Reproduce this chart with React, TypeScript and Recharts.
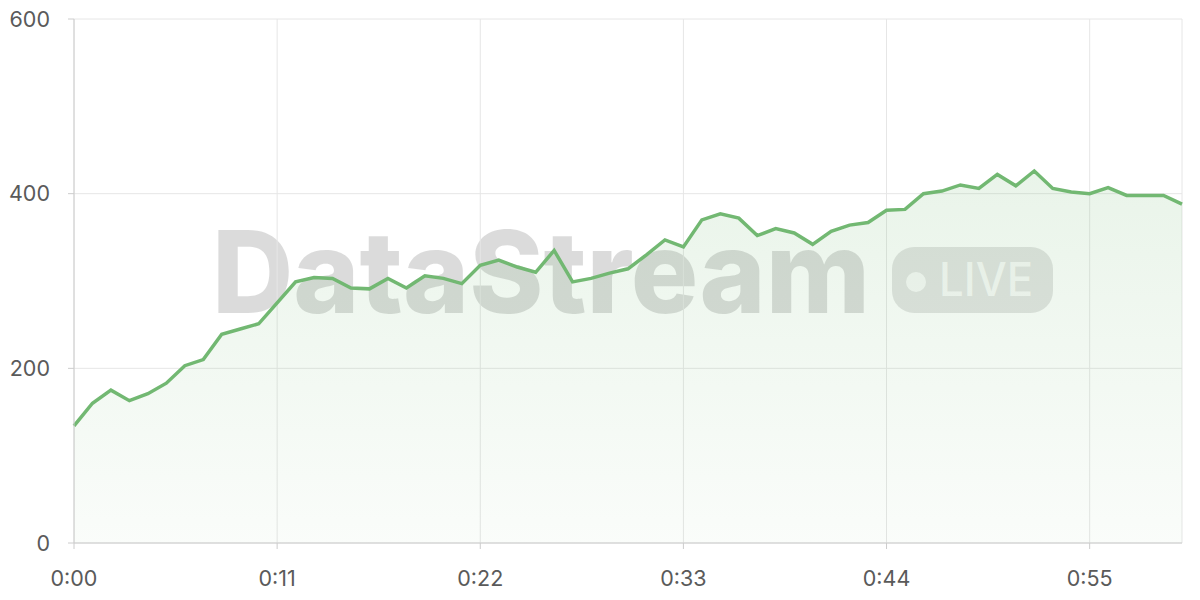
import { AreaChart, Area, XAxis, YAxis, CartesianGrid } from "recharts";

// seconds since start
const seconds = [
  0, 1, 2, 3, 4, 5, 6, 7, 8, 9, 10, 11, 12, 13, 14, 15, 16, 17, 18, 19, 20,
  21, 22, 23, 24, 25, 26, 27, 28, 29, 30, 31, 32, 33, 34, 35, 36, 37, 38, 39,
  40, 41, 42, 43, 44, 45, 46, 47, 48, 49, 50, 51, 52, 53, 54, 55, 56, 57, 58,
  59, 60,
];

const values = [
  134, 160, 175, 163, 171, 183, 203, 210, 239, 245, 251, 275, 299, 304, 303,
  292, 291, 303, 292, 306, 303, 297, 318, 324, 316, 310, 335, 299, 303, 309,
  314, 330, 347, 339, 370, 377, 372, 352, 360, 355, 342, 357, 364, 367, 381,
  382, 400, 403, 410, 406, 422, 409, 426, 406, 402, 400, 407, 398, 398, 398,
  388,
];

const xTicks = [0, 11, 22, 33, 44, 55];
const yTicks = [0, 200, 400, 600];

const data = seconds.map((t, i) => ({ t, value: values[i] }));

const fmtTime = (s: number) => `${Math.floor(s / 60)}:${String(s % 60).padStart(2, "0")}`;

const tickStyle = { fontSize: 21.5, fill: "#5a5a5a", fontFamily: "Inter, sans-serif" };

function Watermark() {
  return (
    <svg
      width={1200}
      height={600}
      style={{ position: "absolute", left: 0, top: 0 }}
    >
      <text
        x={212}
        y={313}
        fontSize={114}
        fontWeight={800}
        fontFamily="Inter, sans-serif"
        fill="rgba(0,0,0,0.14)"
        textLength={658}
        lengthAdjust="spacingAndGlyphs"
      >
        DataStream
      </text>
      <rect x={892} y={247} width={161} height={66} rx={22} fill="rgba(0,0,0,0.11)" />
      <circle cx={916} cy={282} r={10} fill="rgba(255,255,255,0.75)" />
      <text
        x={939}
        y={296}
        fontSize={47}
        fontWeight={500}
        fontFamily="Inter, sans-serif"
        fill="rgba(255,255,255,0.75)"
        textLength={94}
        lengthAdjust="spacingAndGlyphs"
      >
        LIVE
      </text>
    </svg>
  );
}

export default function App() {
  return (
    <div style={{ position: "absolute", left: 0, top: 0, width: 1200, height: 600, background: "#fff" }}>
      <Watermark />
      <div style={{ position: "absolute", left: 0, top: 0 }}>
        <AreaChart
          width={1200}
          height={600}
          data={data}
          margin={{ top: 19, right: 18, left: 0, bottom: 17 }}
        >
          <defs>
            <linearGradient id="fillGreen" x1="0" y1="0" x2="0" y2="1">
              <stop offset="0%" stopColor="#74b974" stopOpacity={0.26} />
              <stop offset="100%" stopColor="#74b974" stopOpacity={0.06} />
            </linearGradient>
          </defs>
          <CartesianGrid stroke="#e6e6e6" />
          <XAxis
            dataKey="t"
            type="number"
            domain={[0, 60]}
            ticks={xTicks}
            tickFormatter={fmtTime}
            tick={tickStyle}
            stroke="#ccc"
            tickSize={6}
            tickMargin={22}
            height={40}
          />
          <YAxis
            domain={[0, 600]}
            ticks={yTicks}
            tick={tickStyle}
            stroke="#ccc"
            tickSize={6}
            tickMargin={18}
            width={74}
          />
          <Area
            type="linear"
            dataKey="value"
            stroke="#72b872"
            strokeWidth={3.5}
            fill="url(#fillGreen)"
            dot={false}
            activeDot={false}
            isAnimationActive={false}
          />
        </AreaChart>
      </div>
    </div>
  );
}
